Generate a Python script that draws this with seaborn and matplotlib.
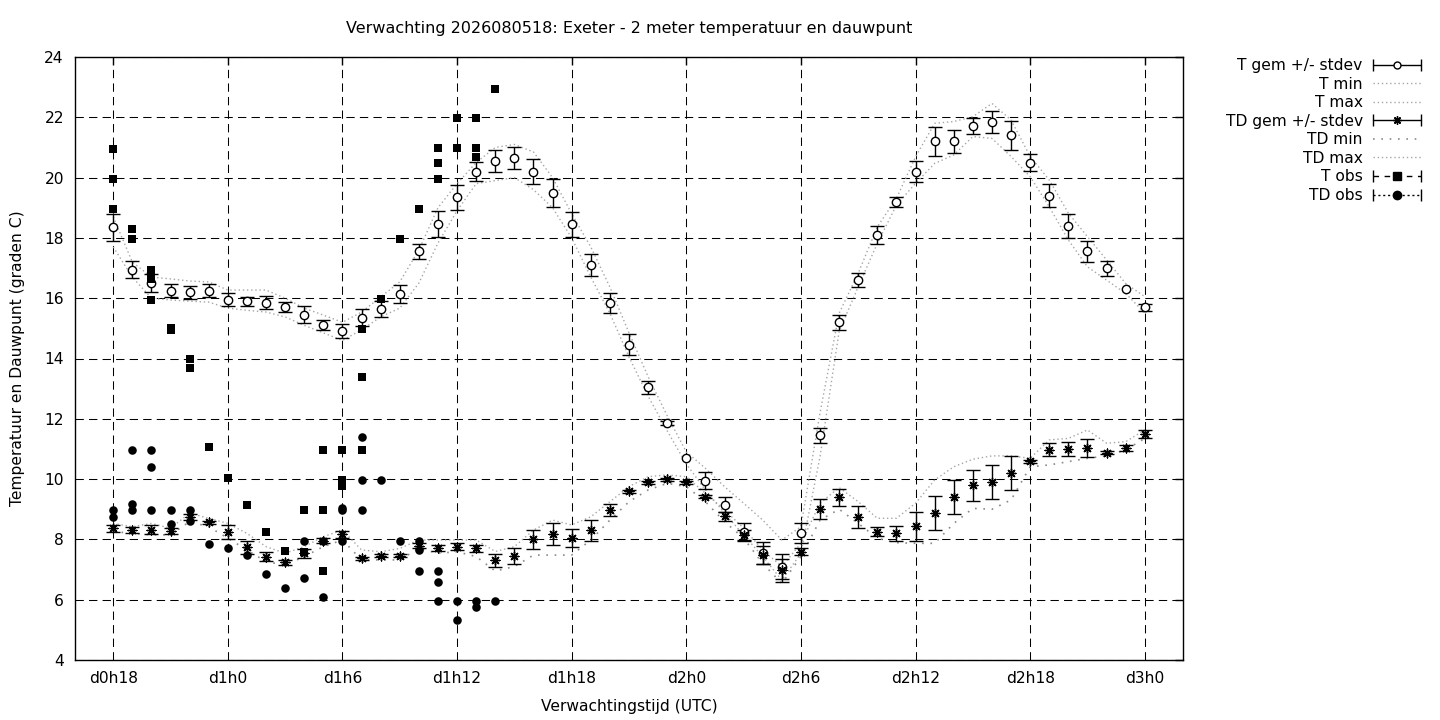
import numpy as np
import pandas as pd
import seaborn as sns
import matplotlib
matplotlib.use('Agg')
import matplotlib.pyplot as plt
from matplotlib.lines import Line2D
from matplotlib.legend_handler import HandlerLine2D, HandlerTuple

# forecast hours since d0h0 (hourly from d0h18 to d3h0)
hours = list(range(18, 73))

t_gem = [18.35, 16.95, 16.5, 16.25, 16.2, 16.25, 15.95, 15.9, 15.85, 15.7,
         15.45, 15.1, 14.9, 15.35, 15.65, 16.15, 17.55, 18.45, 19.35, 20.2,
         20.55, 20.65, 20.2, 19.5, 18.45, 17.1, 15.85, 14.45, 13.05, 11.85,
         10.7, 9.95, 9.15, 8.25, 7.55, 7.1, 8.2, 11.45, 15.2, 16.6,
         18.1, 19.2, 20.2, 21.2, 21.2, 21.7, 21.85, 21.4, 20.5, 19.4,
         18.4, 17.55, 17.0, 16.3, 15.7]
t_sd = [0.44, 0.27, 0.29, 0.21, 0.22, 0.21, 0.22, 0.15, 0.22, 0.17,
        0.28, 0.17, 0.23, 0.28, 0.27, 0.3, 0.25, 0.43, 0.41, 0.32,
        0.38, 0.38, 0.41, 0.46, 0.41, 0.37, 0.33, 0.35, 0.22, 0.07,
        0.0, 0.28, 0.25, 0.28, 0.36, 0.43, 0.33, 0.25, 0.25, 0.23,
        0.3, 0.17, 0.36, 0.48, 0.38, 0.27, 0.37, 0.47, 0.28, 0.39,
        0.39, 0.36, 0.25, 0.0, 0.11]
t_min = [17.7, 16.7, 16.0, 15.94, 15.9, 15.87, 15.67, 15.6, 15.54, 15.38,
         15.1, 14.85, 14.6, 14.95, 15.38, 15.67, 16.5, 17.83, 18.9, 19.8,
         19.9, 20.0, 19.6, 19.0, 18.0, 16.7, 15.5, 14.05, 12.75, 11.6,
         10.5, 9.64, 8.87, 8.15, 7.43, 6.65, 7.54, 10.75, 14.9, 16.38,
         17.82, 19.09, 19.81, 20.47, 20.75, 21.36, 21.3, 20.7, 20.03, 19.03,
         17.93, 17.04, 16.6, 16.16, 15.5]
t_max = [18.7, 17.2, 16.7, 16.64, 16.57, 16.54, 16.27, 16.27, 16.27, 16.0,
         15.67, 15.44, 15.2, 15.54, 16.04, 16.54, 17.6, 19.0, 19.8, 20.5,
         21.0, 21.1, 20.85, 20.0, 18.8, 17.7, 16.37, 14.85, 13.4, 12.1,
         10.9, 10.36, 9.75, 9.2, 8.64, 7.98, 8.42, 12.2, 15.5, 16.83,
         18.37, 19.31, 20.69, 21.8, 21.86, 22.02, 22.46, 21.91, 20.7, 19.92,
         18.82, 18.04, 17.27, 16.49, 16.05]

td_gem = [8.37, 8.31, 8.32, 8.29, 8.75, 8.57, 8.24, 7.74, 7.43, 7.24,
          7.54, 7.96, 8.17, 7.37, 7.46, 7.46, 7.79, 7.72, 7.76, 7.7,
          7.31, 7.45, 8.0, 8.18, 8.05, 8.31, 8.98, 9.6, 9.9, 10.0,
          9.9, 9.42, 8.76, 8.14, 7.47, 6.97, 7.59, 9.0, 9.39, 8.74,
          8.25, 8.2, 8.43, 8.87, 9.4, 9.8, 9.9, 10.2, 10.6, 10.97,
          11.0, 11.03, 10.87, 11.03, 11.5]
td_sd = [0.12, 0.1, 0.15, 0.1, 0.1, 0.05, 0.23, 0.22, 0.14, 0.08,
         0.15, 0.08, 0.12, 0.05, 0.05, 0.05, 0.08, 0.1, 0.12, 0.12,
         0.22, 0.26, 0.31, 0.36, 0.29, 0.35, 0.2, 0.05, 0.05, 0.05,
         0.05, 0.05, 0.16, 0.18, 0.3, 0.38, 0.11, 0.33, 0.27, 0.37,
         0.15, 0.26, 0.47, 0.57, 0.56, 0.51, 0.57, 0.56, 0.05, 0.22,
         0.24, 0.3, 0.05, 0.1, 0.14]
td_min = [8.26, 8.2, 8.15, 8.15, 8.59, 8.42, 8.04, 7.65, 7.26, 7.15,
          7.43, 7.76, 7.98, 7.32, 7.32, 7.32, 7.7, 7.54, 7.59, 7.43,
          6.95, 7.1, 7.48, 7.48, 7.48, 7.98, 8.64, 9.25, 9.64, 9.86,
          9.75, 9.25, 8.59, 8.04, 7.2, 6.54, 7.43, 8.64, 9.0, 8.53,
          8.04, 7.89, 7.87, 7.87, 8.53, 9.03, 9.0, 9.31, 10.41, 10.47,
          10.58, 10.69, 10.77, 10.97, 11.35]
td_max = [8.53, 8.42, 8.53, 8.37, 8.87, 8.7, 8.53, 8.2, 7.76, 7.54,
          7.76, 8.09, 8.31, 7.65, 7.59, 7.7, 7.98, 7.98, 7.98, 7.98,
          7.6, 7.76, 8.31, 8.64, 8.48, 8.75, 9.25, 9.75, 10.08, 10.14,
          10.08, 9.53, 8.98, 8.37, 7.65, 7.1, 7.87, 9.2, 9.72, 9.25,
          8.7, 8.7, 9.2, 9.97, 10.41, 10.66, 10.77, 10.77, 10.69, 11.3,
          11.35, 11.63, 11.19, 11.24, 11.63]

# observations
t_obs_hours = [18, 18, 18, 19, 19, 20, 20, 20, 21, 21, 22, 22, 23, 24, 25, 26, 27,
               28, 28, 29, 29, 29, 30, 30, 30, 31, 31, 31, 32, 33, 34,
               35, 35, 35, 36, 36, 37, 37, 37, 38]
t_obs_vals = [20.95, 19.95, 18.95, 18.28, 17.95, 16.95, 16.65, 15.95, 15.0, 14.95,
              13.97, 13.67, 11.05, 10.05, 9.15, 8.23, 7.62, 8.97, 7.57,
              10.95, 8.97, 6.95, 10.95, 9.98, 9.77, 14.97, 13.4, 10.95,
              15.96, 17.95, 18.95, 20.97, 20.47, 19.97, 21.97, 20.97,
              21.97, 20.97, 20.69, 22.95]
td_obs_hours = [18, 18, 19, 19, 19, 20, 20, 20, 21, 21, 22, 22, 23, 24, 25, 26, 27,
                28, 28, 29, 29, 30, 30, 30, 31, 31, 31, 32, 33, 34, 34, 34,
                35, 35, 35, 36, 36, 37, 37, 38]
td_obs_vals = [8.98, 8.73, 10.97, 9.17, 8.98, 10.97, 10.39, 8.98, 8.98, 8.51,
               8.98, 8.61, 7.85, 7.7, 7.48, 6.85, 6.38, 7.95, 6.71, 7.95, 6.08,
               9.05, 8.98, 7.95, 11.38, 9.97, 8.98, 9.97, 7.95, 7.95, 7.65, 6.95,
               6.95, 6.58, 5.96, 5.96, 5.33, 5.96, 5.75, 5.96]

tick_hours = [18, 24, 30, 36, 42, 48, 54, 60, 66, 72]
tick_labels = ['d0h18', 'd1h0', 'd1h6', 'd1h12', 'd1h18',
               'd2h0', 'd2h6', 'd2h12', 'd2h18', 'd3h0']

sns.set_style('white')
plt.rcParams['font.family'] = ['DejaVu Sans']
plt.rcParams['text.color'] = 'k'
plt.rcParams['axes.labelcolor'] = 'k'
fs = 11.2

fig = plt.figure(figsize=(14.4, 7.2), dpi=100)
ax = fig.add_axes([75 / 1440, 60 / 720, 1108 / 1440, 603 / 720])

gray = '#a6a6a6'
dots = (0, (1, 2))

def nz(v):
    v = np.asarray(v, dtype=float)
    return np.where(v > 0, v, np.nan)

# T gem +/- stdev
ax.errorbar(hours, t_gem, yerr=nz(t_sd), fmt='o', mfc='white', mec='k', mew=1,
            ms=6, ecolor='k', elinewidth=1, capsize=5, capthick=1, zorder=4)
# T min / T max
sns.lineplot(x=hours, y=t_min, ax=ax, color=gray, lw=1, linestyle=dots, zorder=3)
sns.lineplot(x=hours, y=t_max, ax=ax, color=gray, lw=1, linestyle=dots, zorder=3)
# TD gem +/- stdev
ax.errorbar(hours, td_gem, yerr=nz(td_sd), fmt='none', ecolor='k',
            elinewidth=1, capsize=5, capthick=1, zorder=4)
sns.scatterplot(x=hours, y=td_gem, ax=ax, marker=(8, 2, 0), color='k',
                s=40, linewidth=1, zorder=5)
# TD min / TD max
sns.lineplot(x=hours, y=td_min, ax=ax, color='#8a8a8a', lw=1.2,
             linestyle=(0, (1, 4)), zorder=3)
sns.lineplot(x=hours, y=td_max, ax=ax, color=gray, lw=1, linestyle=dots, zorder=3)
# observations
sns.scatterplot(x=t_obs_hours, y=t_obs_vals, ax=ax, marker='s', color='k',
                s=38, linewidth=0, zorder=6)
sns.scatterplot(x=td_obs_hours, y=td_obs_vals, ax=ax, marker='o', color='k',
                s=38, linewidth=0, zorder=6)

ax.set_xlim(16, 74)
ax.set_ylim(4, 24)
ax.set_xticks(tick_hours)
ax.set_xticklabels(tick_labels)
ax.set_yticks(range(4, 25, 2))
ax.set_xlabel('')
ax.set_ylabel('')
ax.tick_params(direction='in', length=6, width=1, labelsize=fs, colors='k',
               labelcolor='k', top=True, right=True, pad=8)
ax.grid(True, color='k', lw=0.75, linestyle=(0, (8, 5)))
for s in ax.spines.values():
    s.set_color('k')
    s.set_linewidth(1)

fig.text(629 / 1440, 1 - 29 / 720,
         'Verwachting 2026080518: Exeter - 2 meter temperatuur en dauwpunt',
         ha='center', va='center', fontsize=11.5, color='k')
fig.text(629 / 1440, 1 - 707 / 720, 'Verwachtingstijd (UTC)',
         ha='center', va='center', fontsize=fs, color='k')
fig.text(18 / 1440, 1 - 358 / 720, 'Temperatuur en Dauwpunt (graden C)',
         ha='center', va='center', rotation=90, fontsize=fs, color='k')

# legend, gnuplot style: sample line with end caps, marker in the middle
def caps(ls):
    return Line2D([], [], color='k', lw=1, linestyle=ls, marker='|', ms=8, mew=1)

c1, c2, c3, c4 = caps('-'), caps('-'), caps((0, (4, 4))), caps((0, (1.5, 2)))
handles = [
    (c1, Line2D([], [], ls='none', marker='o', mfc='white', mec='k', ms=5)),
    Line2D([], [], color=gray, lw=1, linestyle=dots),
    Line2D([], [], color=gray, lw=1, linestyle=dots),
    (c2, Line2D([], [], ls='none', marker=(8, 2, 0), color='k', ms=6)),
    Line2D([], [], color='#8a8a8a', lw=1.2, linestyle=(0, (1, 4))),
    Line2D([], [], color=gray, lw=1, linestyle=dots),
    (c3, Line2D([], [], ls='none', marker='s', color='k', ms=6)),
    (c4, Line2D([], [], ls='none', marker='o', color='k', ms=6)),
]
labels = ['T gem +/- stdev', 'T min', 'T max', 'TD gem +/- stdev',
          'TD min', 'TD max', 'T obs', 'TD obs']
hmap = {c: HandlerLine2D(numpoints=2, marker_pad=0) for c in (c1, c2, c3, c4)}
hmap[tuple] = HandlerTuple(ndivide=1, pad=0)
fig.legend(handles, labels, handler_map=hmap, loc='upper right',
           bbox_to_anchor=(1421 / 1440, 1 - 58 / 720), frameon=False,
           markerfirst=False, fontsize=fs, handlelength=3.1, handletextpad=0.65,
           labelspacing=0.23, borderpad=0, borderaxespad=0, numpoints=1)

fig.savefig('out.png', dpi=100)
